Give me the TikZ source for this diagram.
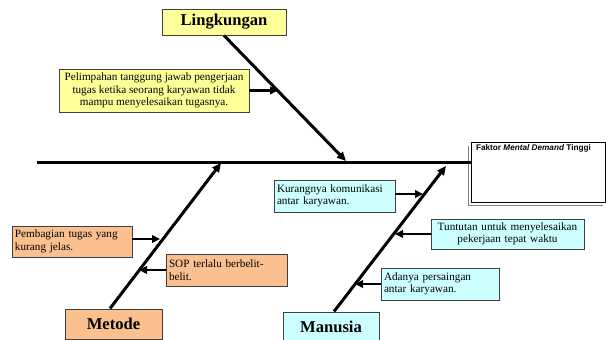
\documentclass[tikz,border=0pt]{standalone}
\usepackage{fontspec}
\setmainfont{Liberation Serif}
\newfontfamily\headfont{Liberation Sans}
\usetikzlibrary{arrows.meta}
\definecolor{cYel}{HTML}{FFFF99}
\definecolor{cOra}{HTML}{FAC090}
\definecolor{cCya}{HTML}{CCFFFF}
\definecolor{cBord}{HTML}{404040}
\begin{document}
\begin{tikzpicture}[x=1pt,y=-1pt,
  catbox/.style={draw=cBord,line width=0.9pt,inner sep=0pt,minimum height=26pt,
     font=\fontsize{16.6}{18}\selectfont\bfseries},
  causebox/.style={draw=cBord,line width=0.8pt,inner sep=3pt,minimum height=31pt,
     font=\fontsize{11.2}{12.5}\selectfont},
  bone/.style={line width=3pt,-{Triangle[length=9pt,width=8pt]}},
  twig/.style={line width=2.6pt,-{Triangle[length=8pt,width=7.5pt]}},
  spineline/.style={line width=3pt}]
\useasboundingbox (0,0) rectangle (606,340);
% head box
\draw[gray,line width=0.8pt] (468,146) -- (468,205) -- (603,205);
\node[draw=black,line width=0.6pt,fill=white,minimum width=134pt,minimum height=60pt,inner sep=0pt]
  (head) at (538,172) {};
\node[anchor=north,font=\headfont\fontsize{8.2}{9}\selectfont\bfseries,inner sep=0pt]
  (headtxt) at (533.5,144.5) {Faktor \textit{Mental Demand} Tinggi};
% spine
\coordinate (tail) at (37,162);
\draw[spineline] (tail) -- (tail -| head.west);
% category boxes
\node[catbox,fill=cYel,minimum width=124pt] (ling) at (224,22) {Lingkungan};
\node[catbox,fill=cOra,minimum width=97pt,minimum height=30pt] (met) at (113.5,324) {Metode};
\node[catbox,fill=cCya,minimum width=96pt,minimum height=30pt] (man) at (331,327) {Manusia};
% cause boxes
\node[causebox,fill=cYel,minimum width=190pt,minimum height=43pt,align=center] (pel) at (154,90.5)
  {Pelimpahan tanggung jawab pengerjaan\\tugas ketika seorang karyawan tidak\\mampu menyelesaikan tugasnya.};
\node[causebox,fill=cOra,text width=114pt,align=left] (pem) at (72,241.5)
  {Pembagian tugas yang\\kurang jelas.};
\node[causebox,fill=cOra,text width=115pt,align=left,minimum height=32pt] (sop) at (226.5,270)
  {SOP terlalu berbelit-\\belit.};
\node[causebox,fill=cCya,text width=115pt,align=left,minimum height=32pt] (kur) at (334.5,196)
  {Kurangnya komunikasi\\antar karyawan.};
\node[causebox,fill=cCya,text width=147pt,align=center,minimum height=30pt] (tun) at (507.5,234)
  {Tuntutan untuk menyelesaikan\\pekerjaan tepat waktu};
\node[causebox,fill=cCya,text width=112pt,align=left,minimum height=32pt] (ada) at (440,284)
  {Adanya persaingan\\antar karyawan.};
% bones
\coordinate (lingtip) at (346,161);
\coordinate (mettip) at (221,163);
\coordinate (mantip) at (446,166);
\draw[bone] (ling.south) -- (lingtip);
\draw[bone] (met.north -| 110,0) -- (mettip);
\draw[bone] (man.north -| 334,0) -- (mantip);
% twigs
\coordinate (t1) at (278,90.5);
\coordinate (t2) at (160,239);
\coordinate (t3) at (139,270);
\coordinate (t4) at (423,194);
\coordinate (t5) at (395,234);
\coordinate (t6) at (355,284);
\draw[twig] (pel.east) -- (t1);
\draw[twig] (pem.east |- t2) -- (t2);
\draw[twig] (sop.west) -- (t3);
\draw[twig] (kur.east |- t4) -- (t4);
\draw[twig] (tun.west) -- (t5);
\draw[twig] (ada.west) -- (t6);
\end{tikzpicture}
\end{document}
